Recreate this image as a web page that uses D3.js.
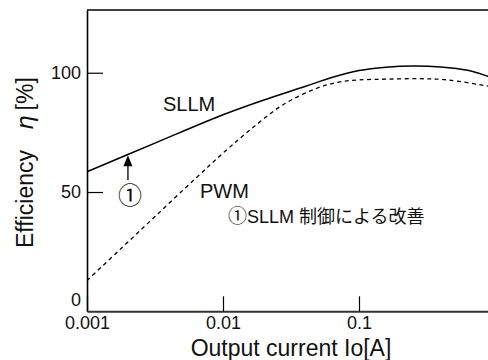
<!DOCTYPE html>
<html>
<head>
<meta charset="utf-8">
<script src="https://cdn.jsdelivr.net/npm/d3@7"></script>
<style>
body { margin: 0; background: #fff; }
svg { display: block; font-family: "Liberation Sans", Arial, sans-serif; }
</style>
</head>
<body>
<svg id="chart" width="488" height="360"></svg>
<script>
// current [A]
var sllmX = [0.001, 0.00316, 0.01, 0.02, 0.04, 0.063, 0.1, 0.158, 0.251, 0.398, 0.631, 0.891, 1.0];
var sllmY = [58.5, 70.5, 82.4, 88.6, 94.2, 98.0, 100.9, 102.3, 102.8, 102.4, 101.0, 98.5, 97.6];

var pwmX = [0.001, 0.00178, 0.00316, 0.00631, 0.01, 0.0158, 0.0275, 0.049, 0.0725, 0.1, 0.158, 0.282, 0.447, 0.891, 1.0];
var pwmY = [12.9, 26.3, 39.7, 55.8, 66.3, 76.0, 86.5, 93.5, 96.2, 97.0, 97.3, 97.5, 97.0, 94.4, 93.9];

var xTicks = [0.001, 0.01, 0.1];
var xTickLabels = ["0.001", "0.01", "0.1"];
var yTicks = [0, 50, 100];

var svg = d3.select("#chart");

var margin_l = 87, margin_t = 10, bottom = 311.3;

var xScale = d3.scaleLog()
  .domain([0.001, 1])
  .range([margin_l, 495]);

var yScale = d3.scaleLinear()
  .domain([0, 126.3])
  .range([bottom, margin_t]);

// frame: top line
svg.append("line")
  .attr("x1", margin_l).attr("x2", 488)
  .attr("y1", margin_t).attr("y2", margin_t)
  .attr("stroke", "#000").attr("stroke-width", 1.3);

// y axis
var yAxis = svg.append("g")
  .attr("transform", "translate(" + margin_l + ",0)")
  .call(d3.axisLeft(yScale).tickValues(yTicks).tickSize(-16).tickPadding(6).tickSizeOuter(0));
yAxis.select(".domain").attr("stroke", "#000").attr("stroke-width", 1.6);
yAxis.selectAll(".tick line").attr("stroke", "#000").attr("stroke-width", 1.2);
yAxis.selectAll(".tick text")
  .style("font-size", "18px")
  .style("font-family", "Liberation Sans, Arial, sans-serif")
  .attr("fill", "#111");
yAxis.selectAll(".tick").filter(function(d) { return d === 0; })
  .each(function() {
    d3.select(this).select("line").remove();
    d3.select(this).select("text").attr("y", -12);
  });

// x axis
var xAxis = svg.append("g")
  .attr("transform", "translate(0," + bottom + ")")
  .call(d3.axisBottom(xScale).tickValues(xTicks)
    .tickFormat(function(d, i) { return xTickLabels[i]; })
    .tickSize(-15).tickPadding(5).tickSizeOuter(0));
xAxis.select(".domain").attr("stroke", "#333").attr("stroke-width", 2);
xAxis.selectAll(".tick line").attr("stroke", "#000").attr("stroke-width", 1.2);
xAxis.selectAll(".tick text")
  .style("font-size", "18px")
  .style("font-family", "Liberation Sans, Arial, sans-serif")
  .attr("fill", "#111");

// lines
var line = d3.line()
  .x(function(d) { return xScale(d[0]); })
  .y(function(d) { return yScale(d[1]); })
  .curve(d3.curveCatmullRom.alpha(0.5));

svg.append("path")
  .datum(d3.zip(sllmX, sllmY))
  .attr("d", line)
  .attr("fill", "none")
  .attr("stroke", "#000")
  .attr("stroke-width", 1.5);

svg.append("path")
  .datum(d3.zip(pwmX, pwmY))
  .attr("d", line)
  .attr("fill", "none")
  .attr("stroke", "#000")
  .attr("stroke-width", 1.3)
  .attr("stroke-dasharray", "4,3.5");

// axis titles
svg.append("text")
  .attr("x", 291).attr("y", 356)
  .style("text-anchor", "middle")
  .style("font-size", "23px")
  .attr("fill", "#111")
  .text("Output current Io[A]");

var yt = svg.append("text")
  .attr("transform", "translate(33,248) rotate(-90)")
  .style("text-anchor", "start")
  .style("font-size", "23px")
  .attr("fill", "#111");
yt.append("tspan").text("Efficiency");
yt.append("tspan").attr("dx", 20).style("font-style", "italic").style("font-family", "DejaVu Sans, sans-serif").text("η");
yt.append("tspan").attr("dx", 5).text("[%]");

// labels
svg.append("text")
  .attr("x", 163).attr("y", 111)
  .style("font-size", "20px").attr("fill", "#111")
  .text("SLLM");

svg.append("text")
  .attr("x", 200).attr("y", 198)
  .style("font-size", "20px").attr("fill", "#111")
  .text("PWM");

// note: circled 1 drawn as its own text so it keeps the CJK glyph
svg.append("text")
  .attr("x", 228).attr("y", 223)
  .style("font-family", "Noto Sans CJK JP")
  .style("font-size", "19px").attr("fill", "#111")
  .text("①");
var note = svg.append("text")
  .attr("x", 247).attr("y", 223)
  .style("font-size", "18px").attr("fill", "#111");
note.append("tspan").text("SLLM ");
note.append("tspan").style("font-family", "Noto Sans CJK JP").text("制御による改善");

// annotation arrow at 0.002 A
var ax = xScale(0.002);
var tipY = yScale(65.4);
svg.append("line")
  .attr("x1", ax).attr("x2", ax)
  .attr("y1", 180).attr("y2", tipY + 8)
  .attr("stroke", "#000").attr("stroke-width", 1.3);
svg.append("path")
  .attr("d", "M" + ax + "," + tipY + "L" + (ax - 4.5) + "," + (tipY + 11) + "L" + (ax + 4.5) + "," + (tipY + 11) + "Z")
  .attr("fill", "#000");

svg.append("text")
  .attr("x", ax + 2).attr("y", 193)
  .attr("dominant-baseline", "central")
  .style("text-anchor", "middle")
  .style("font-family", "Noto Sans CJK JP")
  .style("font-size", "24px").attr("fill", "#111")
  .text("①");
</script>
</body>
</html>
